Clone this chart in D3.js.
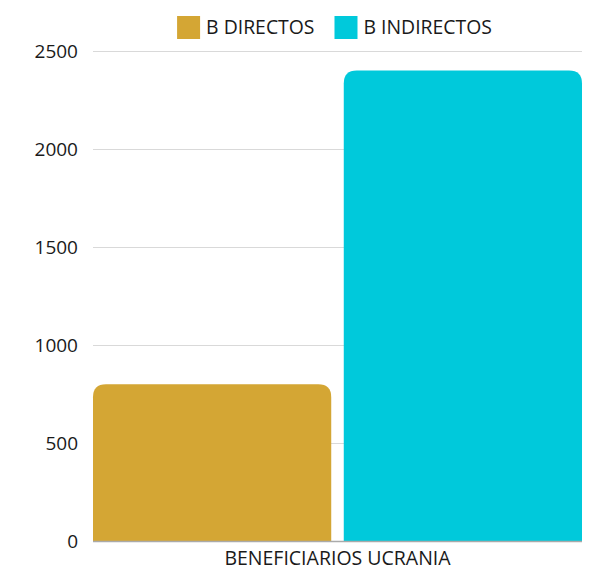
<!DOCTYPE html>
<html>
<head>
<meta charset="utf-8">
<script src="https://cdn.jsdelivr.net/npm/d3@7"></script>
<style>
  body { margin: 0; background: #fff; }
  text { font-family: "Open Sans", sans-serif; fill: #1a1a1a; }
</style>
</head>
<body>
<script>
// data
var categories = ["BENEFICIARIOS UCRANIA"];
var seriesNames = ["B DIRECTOS", "B INDIRECTOS"];
var seriesValues = [[800], [2400]];
var yTicks = [0, 500, 1000, 1500, 2000, 2500];
var colors = ["#D4A634", "#00C9DB"];

var W = 592, H = 567;
var margin = {left: 93, right: 10, top: 51, bottom: 26},
    width = W - margin.left - margin.right,
    height = H - margin.top - margin.bottom;

var svg = d3.select("body").append("svg")
    .attr("width", W)
    .attr("height", H);

var g = svg.append("g")
    .attr("transform", "translate(" + margin.left + "," + margin.top + ")");

var yScale = d3.scaleLinear()
    .domain([0, 2500])
    .range([height, 0]);

var x0 = d3.scaleBand()
    .domain(categories)
    .range([0, width])
    .padding(0);

var x1 = d3.scaleBand()
    .domain(seriesNames)
    .range([0, x0.bandwidth()])
    .paddingInner(0.05)
    .paddingOuter(0);

//gridlines + tick labels
var yAxis = d3.axisLeft(yScale)
    .tickValues(yTicks)
    .tickFormat(d3.format("d"))
    .tickSize(-width)
    .tickPadding(15);

var yg = g.append("g").attr("class", "y axis").call(yAxis);
yg.select(".domain").remove();
yg.selectAll(".tick line").attr("stroke", "#d9d9d9").attr("stroke-width", 1);
yg.selectAll(".tick text")
    .attr("font-size", "19px")
    .attr("dy", "0.35em")
    .style("font-family", "'Open Sans', sans-serif")
    .attr("fill", "#1a1a1a");

//bars with rounded tops
var r = 13;
function barPath(x, y, w, h) {
  var rr = Math.min(r, h, w / 2);
  return "M" + x + "," + (y + h) +
    "V" + (y + rr) +
    "Q" + x + "," + y + " " + (x + rr) + "," + y +
    "H" + (x + w - rr) +
    "Q" + (x + w) + "," + y + " " + (x + w) + "," + (y + rr) +
    "V" + (y + h) + "Z";
}

var bars = [];
categories.forEach(function(c, ci) {
  seriesNames.forEach(function(s, si) {
    bars.push({cat: c, series: s, value: seriesValues[si][ci], color: colors[si]});
  });
});

g.selectAll(".bar")
    .data(bars)
    .enter().append("path")
    .attr("class", "bar")
    .attr("fill", function(d) { return d.color; })
    .attr("d", function(d) {
      var x = x0(d.cat) + x1(d.series);
      var y = yScale(d.value);
      return barPath(x, y, x1.bandwidth(), height - y);
    });

//baseline
g.append("line")
    .attr("x1", 0).attr("x2", width)
    .attr("y1", height + 0.5).attr("y2", height + 0.5)
    .attr("stroke", "#aaaaaa")
    .attr("stroke-width", 1.5);

//category label
g.selectAll(".cat")
    .data(categories)
    .enter().append("text")
    .attr("class", "cat")
    .attr("x", function(d) { return x0(d) + x0.bandwidth() / 2; })
    .attr("y", height + 24)
    .attr("text-anchor", "middle")
    .attr("font-size", "19.5px")
    .text(function(d) { return d; });

//legend
var legend = svg.append("g").attr("class", "legend");
var sw = 23, gapText = 5, gapItem = 20;
var items = legend.selectAll(".item")
    .data(seriesNames)
    .enter().append("g")
    .attr("class", "item");

items.append("rect")
    .attr("width", sw).attr("height", sw)
    .attr("y", 16)
    .attr("fill", function(d, i) { return colors[i]; });

items.append("text")
    .attr("x", sw + gapText + 1)
    .attr("y", 34)
    .attr("font-size", "19.4px")
    .text(function(d) { return d; });

var xPos = 0, offsets = [];
items.each(function() {
  offsets.push(xPos);
  var tw = d3.select(this).select("text").node().getComputedTextLength();
  xPos += sw + gapText + 1 + tw + gapItem;
});
var total = xPos - gapItem;
var start = 334.5 - total / 2;
items.attr("transform", function(d, i) { return "translate(" + (start + offsets[i]) + ",0)"; });
</script>
</body>
</html>
